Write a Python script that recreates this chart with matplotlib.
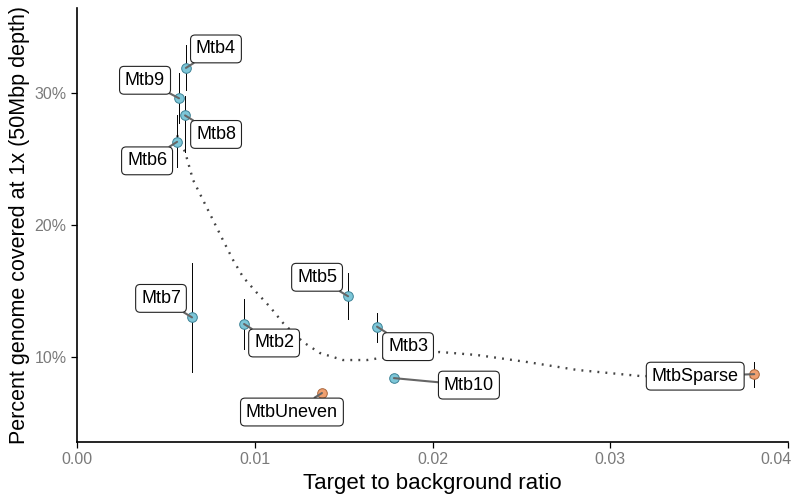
import matplotlib
matplotlib.use("Agg")
import matplotlib.pyplot as plt
import matplotlib.transforms as mtransforms
from matplotlib.ticker import FuncFormatter, FixedLocator

plt.rcParams['font.family'] = ['Liberation Sans', 'DejaVu Sans']

# ---- data ----
names = ["Mtb4", "Mtb9", "Mtb8", "Mtb6", "Mtb7", "Mtb2", "Mtb5", "Mtb3",
         "Mtb10", "MtbUneven", "MtbSparse"]
ratio = [0.00613, 0.00574, 0.00608, 0.00563, 0.00647, 0.0094, 0.01525,
         0.01688, 0.01783, 0.01378, 0.0381]
coverage = [31.9, 29.6, 28.3, 26.3, 13.0, 12.5, 14.6, 12.3, 8.4, 7.27, 8.7]
cov_low = [30.2, 27.7, 25.5, 24.4, 8.9, 10.6, 12.9, 11.1, 8.4, 7.27, 7.7]
cov_high = [33.6, 31.5, 29.8, 28.3, 17.1, 14.4, 16.4, 13.3, 8.4, 7.27, 9.6]
kind = ["std", "std", "std", "std", "std", "std", "std", "std", "std",
        "odd", "odd"]

# smooth trend line
trend_x = [0.00563, 0.00608, 0.00653, 0.00709, 0.00765, 0.00821, 0.00878,
           0.00934, 0.01013, 0.01086, 0.01159, 0.01271, 0.01367, 0.01496,
           0.01632, 0.01705, 0.02042, 0.02250, 0.02532, 0.02813, 0.03167,
           0.03505, 0.03809]
trend_y = [26.8, 25.53, 23.41, 21.89, 20.38, 18.86, 17.35, 16.06, 14.85,
           13.79, 12.58, 11.14, 10.30, 9.77, 9.77, 9.92, 10.38, 10.15, 9.62,
           9.02, 8.56, 8.48, 8.48]

x_ticks = [0.00, 0.01, 0.02, 0.03, 0.04]
y_ticks = [10, 20, 30]

# ---- layout / style ----
label_offsets = {  # offset pixels of label centre from point
    "Mtb4": (30, 19), "Mtb9": (-34, 18), "Mtb8": (31, -19),
    "Mtb6": (-30, -19), "Mtb7": (-31, 19), "Mtb2": (30, -19),
    "Mtb5": (-31, 19), "Mtb3": (31, -20), "Mtb10": (75, -7),
    "MtbUneven": (-30, -19), "MtbSparse": (-59, -2),
}
fill = {"std": "#7cc6d8", "odd": "#f0a070"}
edge = {"std": "#3d8296", "odd": "#a8663c"}

fig = plt.figure(figsize=(7.93, 4.98), dpi=100)
ax = fig.add_axes([77 / 793, 56 / 498, 711 / 793, 434 / 498])

ax.plot(trend_x, trend_y, linestyle=(0, (0.8, 2.6)), color="#444444",
        linewidth=1.7, zorder=2, dash_capstyle="butt")

for xi, lo, hi in zip(ratio, cov_low, cov_high):
    ax.plot([xi, xi], [lo, hi], color="black", linewidth=0.7, zorder=3)

for n, xi, yi, k in zip(names, ratio, coverage, kind):
    ax.scatter([xi], [yi], s=48, color=fill[k], edgecolor=edge[k],
               linewidth=0.7, zorder=4)

for n, xi, yi in zip(names, ratio, coverage):
    dx, dy = label_offsets[n]
    ax.annotate(n, xy=(xi, yi), xytext=(dx, dy), textcoords="offset pixels",
                ha="center", va="center", fontsize=13, color="black",
                zorder=6,
                bbox=dict(boxstyle="round,pad=0.3,rounding_size=0.25",
                          fc="white", ec="#222222", lw=0.8),
                arrowprops=dict(arrowstyle="-", color="#666666", lw=1.5,
                                shrinkA=0, shrinkB=0))

ax.set_xlim(0, 0.04)
ax.set_ylim(3.56, 36.44)
ax.xaxis.set_major_locator(FixedLocator(x_ticks))
ax.yaxis.set_major_locator(FixedLocator(y_ticks))
ax.xaxis.set_major_formatter(FuncFormatter(lambda v, p: f"{v:.2f}"))
ax.yaxis.set_major_formatter(FuncFormatter(lambda v, p: f"{v:.0f}%"))

for s in ["top", "right"]:
    ax.spines[s].set_visible(False)
for s in ["left", "bottom"]:
    ax.spines[s].set_linewidth(1.2)
    ax.spines[s].set_color("black")
ax.tick_params(axis="both", direction="out", length=4, width=0.9,
               color="black", labelcolor="#7a7a7a", labelsize=11.5)

# nudge the last x tick label so it stays inside the canvas
last = ax.get_xticklabels()[-1]
last.set_transform(last.get_transform() +
                   mtransforms.ScaledTranslation(-12 / 100, 0,
                                                 fig.dpi_scale_trans))

ax.set_xlabel("Target to background ratio", fontsize=16, labelpad=4)
ax.set_ylabel("Percent genome covered at 1x (50Mbp depth)", fontsize=15.5,
              labelpad=3)

fig.savefig("out.png", dpi=100)
